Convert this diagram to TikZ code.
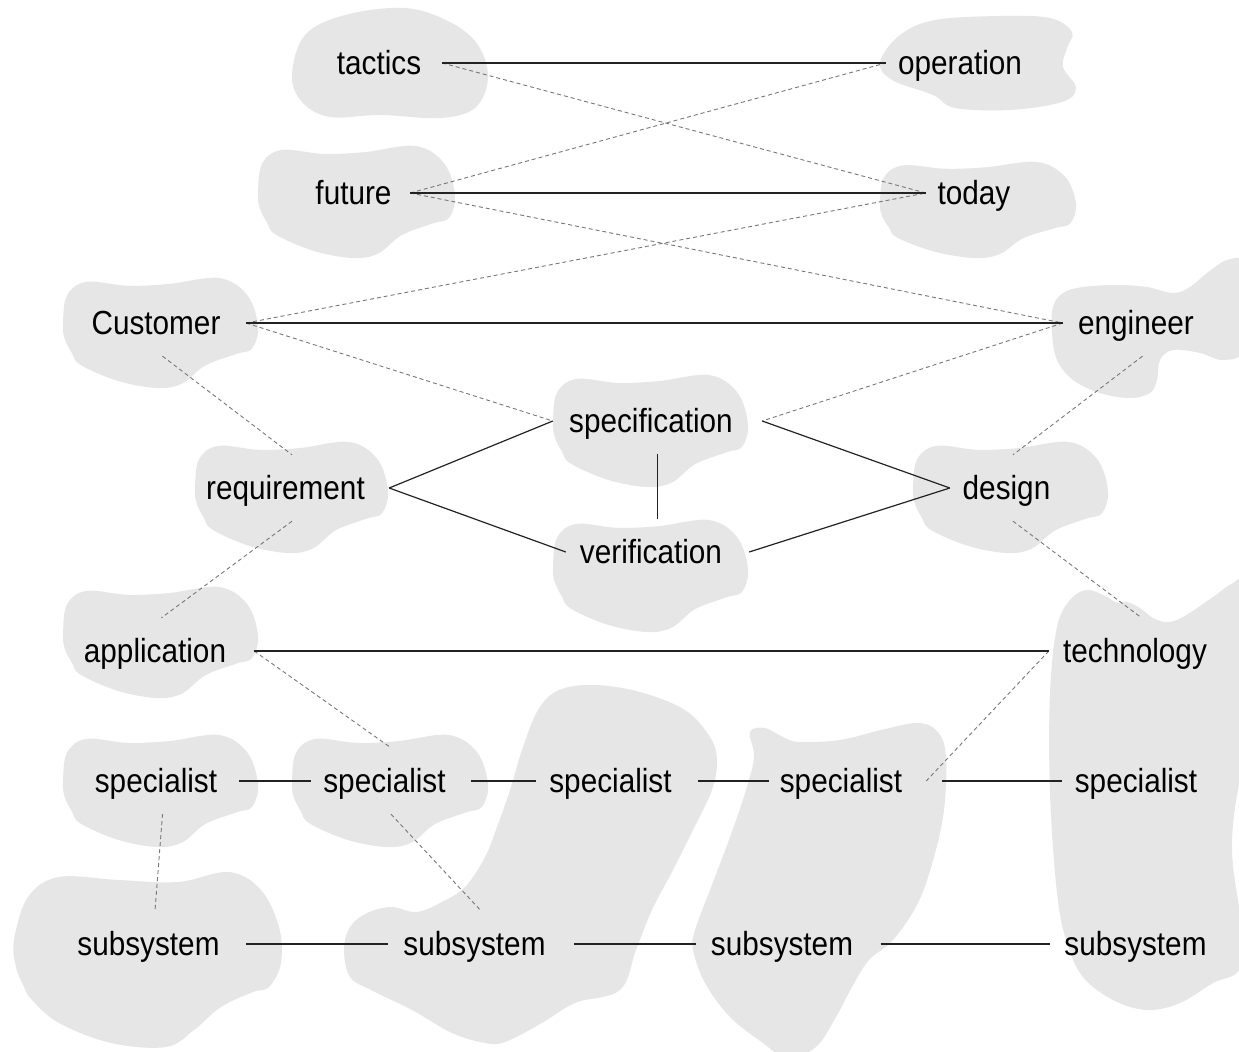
\documentclass[tikz,border=0pt]{standalone}
\usepackage{fontspec}
\setmainfont{Liberation Sans}[FakeStretch=0.89]
\definecolor{blobgray}{HTML}{E6E6E6}
\definecolor{linedark}{HTML}{222222}
\definecolor{dashgray}{HTML}{777777}
\newcommand{\kidney}[4]{\fill[blob,shift={(#1,#2)},xscale=#3,yscale=#4] plot[smooth cycle, tension=0.6] coordinates {(0,0.43) (0.02,0.16) (0.12,0.035) (0.33,0.07) (0.54,0.055) (0.80,0) (0.945,0.155) (1,0.44) (0.97,0.64) (0.89,0.69) (0.73,0.795) (0.61,0.96) (0.48,1) (0.28,0.935) (0.09,0.79) (0.045,0.68) (0.01,0.56)};}
\begin{document}
\begin{tikzpicture}[x=1bp,y=-1bp,
  blob/.style={fill=blobgray},
  lbl/.style={inner sep=0pt, minimum height=66bp, text height=25.4bp, text depth=3.4bp,
    font=\fontsize{33.4bp}{40bp}\selectfont, execute at begin node={\hspace*{-13bp}}},
  link/.style={draw=linedark, line width=1.2bp},
  rel/.style={draw=dashgray, line width=0.9bp, dash pattern=on 4bp off 3bp}]
\useasboundingbox (0,0) rectangle (1239,1052);
\begin{scope}
\clip (0,0) rectangle (1239,1052);
% tactics
\fill[blob] plot[smooth cycle, tension=0.6] coordinates {(292,75) (305,35) (345,15) (405,8) (450,22) (478,45) (488,78) (475,108) (440,118) (380,115) (330,117) (302,102)};
% operation
\fill[blob] plot[smooth cycle, tension=0.6] coordinates {(880,62) (900,35) (935,20) (1000,16) (1050,18) (1072,32) (1067,48) (1063,67) (1076,88) (1062,102) (1010,110) (955,108) (933,95) (892,80)};
\kidney{258}{146}{197}{112}   % future
\kidney{880}{162}{196}{96}    % today
\kidney{63}{278}{195}{110}    % Customer
% engineer
\fill[blob] plot[smooth cycle, tension=0.6] coordinates {(1052,333) (1053,307) (1063,293) (1083,287) (1117,285) (1147,287) (1173,293) (1190,287) (1207,273) (1227,260) (1245,262) (1252,300) (1245,350) (1223,360) (1200,353) (1173,350) (1160,360) (1157,380) (1150,393) (1130,398) (1100,393) (1073,380) (1057,360)};
\kidney{553}{375}{195}{112}   % specification
\kidney{195}{442}{193}{111}   % requirement
\kidney{913}{442}{195}{111}   % design
\kidney{553}{520}{195}{112}   % verification
\kidney{63}{587}{195}{111}    % application
\kidney{63}{735}{195}{112}    % specialist 1
\kidney{292}{735}{196}{112}   % specialist 2
% subsystem 1
\fill[blob] plot[smooth cycle, tension=0.6] coordinates {(14,940) (28,897) (59,877) (119,880) (178,882) (229,872) (261,890) (279,927) (281,963) (269,987) (253,992) (221,1007) (194,1030) (166,1047) (111,1043) (59,1023) (32,1000) (24,987) (16,967)};
% subsystem 2 + specialist 3
\fill[blob] plot[smooth cycle, tension=0.6] coordinates {(595,685) (640,692) (685,710) (710,737) (717,760) (712,790) (693,830) (673,870) (652,910) (636,950) (620,990) (575,1003) (542,1023) (505,1042) (485,1043) (452,1033) (412,1010) (371,990) (350,977) (344,950) (350,927) (367,913) (391,907) (416,912) (440,903) (465,887) (485,857) (497,827) (510,790) (522,750) (538,710) (559,690)};
% specialist 4 + subsystem 3
\fill[blob] plot[smooth cycle, tension=0.6] coordinates {(750,732) (765,728) (783,737) (799,742) (840,740) (881,730) (918,723) (938,732) (946,757) (944,810) (934,857) (918,903) (893,940) (869,960) (852,987) (836,1017) (816,1047) (787,1058) (763,1043) (730,1017) (705,983) (693,950) (695,930) (710,890) (730,837) (746,790) (754,757)};
% technology / specialist 5 / subsystem 4
\fill[blob] plot[smooth cycle, tension=0.6] coordinates {(1070,600) (1087,590) (1107,597) (1117,603) (1127,602) (1140,608) (1153,618) (1167,622) (1183,617) (1213,597) (1233,583) (1262,572) (1262,700) (1240,780) (1232,850) (1242,930) (1239,970) (1213,983) (1180,1003) (1147,1010) (1113,1000) (1083,977) (1067,943) (1057,893) (1050,793) (1050,693) (1057,627)};
\end{scope}

% nodes
\node[lbl, minimum width=113bp] (tactics) at (385.5,63) {tactics};
\node[lbl, minimum width=161bp] (operation) at (966.5,63) {operation};
\node[lbl, minimum width=100bp] (future) at (360,193) {future};
\node[lbl, minimum width=109bp] (today) at (980.5,193) {today};
\node[lbl, minimum width=167bp] (customer) at (162.5,323) {Customer};
\node[lbl, minimum width=159bp] (engineer) at (1142.5,323) {engineer};
\node[lbl, minimum width=209bp] (spec) at (657.5,421) {specification};
\node[lbl, minimum width=194bp] (req) at (292,488) {requirement};
\node[lbl, minimum width=126bp] (design) at (1013,488) {design};
\node[lbl, minimum width=183bp] (ver) at (657.5,552) {verification};
\node[lbl, minimum width=185bp] (app) at (161.5,651) {application};
\node[lbl, minimum width=185bp] (tech) at (1141.5,651) {technology};
\node[lbl, minimum width=153bp] (sp1) at (162.5,781) {specialist};
\node[lbl, minimum width=160bp] (sp2) at (391,781) {specialist};
\node[lbl, minimum width=161bp] (sp3) at (617,781) {specialist};
\node[lbl, minimum width=157bp] (sp4) at (847.5,781) {specialist};
\node[lbl, minimum width=161bp] (sp5) at (1142.5,781) {specialist};
\node[lbl, minimum width=182bp] (ss1) at (155,944) {subsystem};
\node[lbl, minimum width=186bp] (ss2) at (481,944) {subsystem};
\node[lbl, minimum width=184bp] (ss3) at (788.5,944) {subsystem};
\node[lbl, minimum width=184bp] (ss4) at (1142,944) {subsystem};

% dashed relations
\draw[rel] (tactics.east) -- (today.west);
\draw[rel] (future.east) -- (operation.west);
\draw[rel] (future.east) -- (engineer.west);
\draw[rel] (customer.east) -- (today.west);
\draw[rel] (customer.east) -- (spec.west);
\draw[rel] (engineer.west) -- (spec.east);
\draw[rel] (customer.south) -- (req.north);
\draw[rel] (engineer.south) -- (design.north);
\draw[rel] (req.south) -- (app.north);
\draw[rel] (design.south) -- (tech.north);
\draw[rel] (app.east) -- (sp2.north);
\draw[rel] (tech.west) -- (sp4.east);
\draw[rel] (sp1.south) -- (ss1.north);
\draw[rel] (sp2.south) -- (ss2.north);

% solid links
\draw[link] (tactics.east) -- (operation.west);
\draw[link] (future.east) -- (today.west);
\draw[link] (customer.east) -- (engineer.west);
\draw[link] (req.east) -- (spec.west);
\draw[link] (req.east) -- (ver.west);
\draw[link] (spec.east) -- (design.west);
\draw[link] (ver.east) -- (design.west);
\draw[link] (spec.south) -- (ver.north);
\draw[link] (app.east) -- (tech.west);
\draw[link] (sp1.east) -- (sp2.west);
\draw[link] (sp2.east) -- (sp3.west);
\draw[link] (sp3.east) -- (sp4.west);
\draw[link, shorten <=16bp] (sp4.east) -- (sp5.west);
\draw[link] (ss1.east) -- (ss2.west);
\draw[link] (ss2.east) -- (ss3.west);
\draw[link] (ss3.east) -- (ss4.west);
\end{tikzpicture}
\end{document}
